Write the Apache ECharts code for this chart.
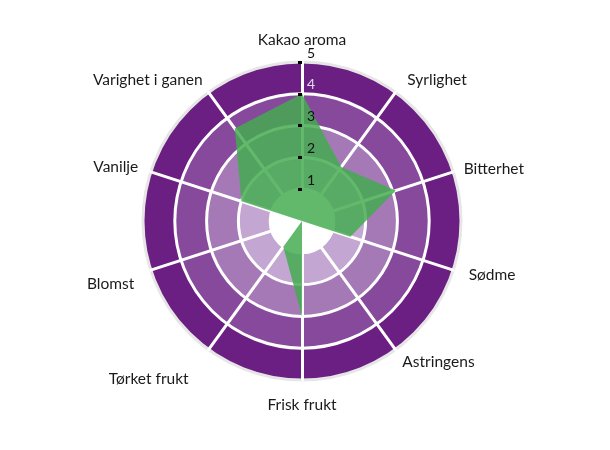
<!DOCTYPE html>
<html>
<head>
<meta charset="utf-8">
<script src="https://cdn.jsdelivr.net/npm/echarts@6/dist/echarts.min.js"></script>
<style>html,body{margin:0;padding:0;background:#fff}#c{width:610px;height:450px}</style>
</head>
<body>
<div id="c"></div>
<script>
// clockwise from top
const categories = ['Kakao aroma','Syrlighet','Bitterhet','Sødme','Astringens','Frisk frukt','Tørket frukt','Blomst','Vanilje','Varighet i ganen'];
const values = [4, 2.1, 3.1, 1.6, 0, 3, 1, 0, 2, 3.6];
const tickValues = [1, 2, 3, 4, 5];
const maxValue = 5;

// label placement tweaks (style only): [dx, dy] in px
const nameShift = {
  'Kakao aroma': [0, -4], 'Syrlighet': [6, -4], 'Bitterhet': [1, 0], 'Sødme': [6, 2],
  'Astringens': [1, 4], 'Frisk frukt': [0, 7], 'Tørket frukt': [-14, 21], 'Blomst': [-7, 11],
  'Vanilje': [-3, -2], 'Varighet i ganen': [0, -4]
};
const baseGap = 10;
const nameFontSize = 15.5;

// ECharts radar runs counter-clockwise, so reverse everything after the first
const order = [0].concat(categories.map((_, i) => i).slice(1).reverse());
const nameCount = categories.length;

function nameStyleFor(k, name) {
  const s = nameShift[name] || [0, 0];
  const ang = Math.PI / 2 + (2 * Math.PI * k) / nameCount; // ECharts angle (ccw)
  const c = Math.cos(ang), sn = Math.sin(ang);
  let gap = baseGap;
  const ts = { padding: [0, 0, 0, 0] };
  if (Math.abs(c) < 1e-4) {
    gap += sn > 0 ? -s[1] : s[1];
  } else {
    if (s[1] > 0) { ts.verticalAlign = 'top'; ts.lineHeight = 2 * s[1]; }
    else if (s[1] < 0) { ts.verticalAlign = 'bottom'; ts.lineHeight = -2 * s[1]; }
    if (c > 0) { if (s[0] > 0) ts.padding[3] = s[0]; }
    else { if (s[0] < 0) ts.padding[1] = -s[0]; }
  }
  return { nameGap: gap, nameTextStyle: ts };
}

const indicator = order.map((i, k) => Object.assign({ name: categories[i], min: 0, max: maxValue }, nameStyleFor(k, categories[i])));
const seriesValues = order.map(i => values[i]);

const center = [302, 221];
const radius = 159;
const font = 'Lato, "Open Sans", sans-serif';

function overlayRadar(inside, showLabel) {
  return {
    center, radius, startAngle: 90, shape: 'circle', splitNumber: 5, z: 10,
    indicator: indicator.map((ind, k) => {
      const base = { name: ind.name, min: ind.min, max: ind.max };
      if (k !== 0) return base;
      return Object.assign(base, {
        axisTick: { show: true, customValues: tickValues, inside: inside, length: 4, lineStyle: { color: '#000', width: 3 } },
        axisLabel: { show: showLabel, customValues: tickValues, margin: -5, align: 'left', fontSize: 14, fontFamily: font,
          color: v => (Number(v) === 4 ? '#e4d6ec' : '#111'),
          verticalAlign: 'bottom', lineHeight: 18 }
      });
    }),
    axisName: { show: false },
    splitArea: { show: false },
    splitLine: { show: false },
    axisLine: { show: false },
    axisTick: { show: false },
    axisLabel: { show: false }
  };
}

const chart = echarts.init(document.getElementById('c'), null, { renderer: 'canvas' });
chart.setOption({
  animation: false,
  backgroundColor: '#fff',
  radar: [
    {
      center, radius, startAngle: 90, shape: 'circle', splitNumber: 5,
      indicator: indicator,
      nameGap: baseGap,
      axisName: { color: '#1a1a1a', fontSize: nameFontSize, fontFamily: font },
      splitArea: { show: true, areaStyle: { color: ['#ffffff', '#c3a6d1', '#a479b6', '#86499c', '#6c1f82'] } },
      splitLine: { lineStyle: { color: ['#ffffff', '#ffffff', '#ffffff', '#ffffff', '#ffffff', '#e6e6e6'], width: 3 } },
      axisLine: { lineStyle: { color: '#ffffff', width: 3 } },
      axisTick: { show: false },
      axisLabel: { show: false }
    },
    overlayRadar(false, true),
    overlayRadar(true, false)
  ],
  series: [{
    type: 'radar',
    radarIndex: 0,
    symbol: 'none',
    silent: true,
    lineStyle: { width: 0 },
    areaStyle: { color: 'rgb(68,172,80)', opacity: 0.84 },
    data: [{ value: seriesValues }]
  }]
});
</script>
</body>
</html>
